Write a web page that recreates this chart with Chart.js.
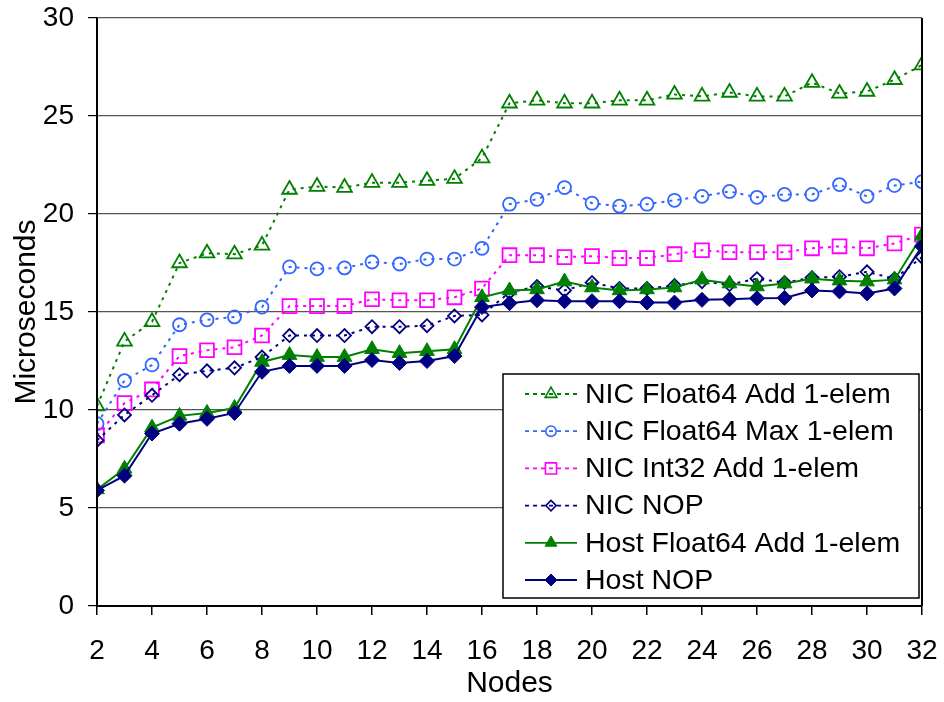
<!DOCTYPE html>
<html>
<head>
<meta charset="utf-8">
<script src="https://cdn.jsdelivr.net/npm/chart.js@4"></script>
<style>
  html, body { margin: 0; padding: 0; background: #fff; }
  #wrap { width: 944px; height: 702px; }
</style>
</head>
<body>
<div id="wrap"><canvas id="chart" width="944" height="702"></canvas></div>
<script>
  // --- Data ---
  const nodes = [2, 3, 4, 5, 6, 7, 8, 9, 10, 11, 12, 13, 14, 15, 16,
    17, 18, 19, 20, 21, 22, 23, 24, 25, 26, 27, 28, 29, 30, 31, 32];
  const xTicks = [2, 4, 6, 8, 10, 12, 14, 16, 18, 20, 22, 24, 26, 28, 30, 32];
  const yTicks = [0, 5, 10, 15, 20, 25, 30];

  const nicFloat64Add = [10.2, 13.5, 14.5, 17.5, 18.0, 17.95, 18.4, 21.25, 21.4, 21.35, 21.6, 21.6, 21.7, 21.8, 22.85,
    25.65, 25.8, 25.65, 25.65, 25.8, 25.8, 26.1, 26.0, 26.2, 26.0, 26.0, 26.7, 26.15, 26.25, 26.85, 27.6];
  const nicFloat64Max = [9.3, 11.5, 12.3, 14.35, 14.6, 14.75, 15.25, 17.3, 17.2, 17.25, 17.55, 17.45, 17.7, 17.7, 18.25,
    20.5, 20.75, 21.35, 20.55, 20.4, 20.5, 20.7, 20.9, 21.15, 20.85, 21.0, 21.0, 21.5, 20.9, 21.45, 21.65];
  const nicInt32Add = [8.7, 10.35, 11.05, 12.75, 13.05, 13.2, 13.8, 15.3, 15.3, 15.3, 15.65, 15.6, 15.6, 15.75, 16.2,
    17.9, 17.9, 17.8, 17.85, 17.75, 17.75, 17.95, 18.15, 18.05, 18.05, 18.05, 18.25, 18.35, 18.25, 18.5, 18.95];
  const nicNop = [8.45, 9.75, 10.75, 11.8, 12.0, 12.15, 12.7, 13.8, 13.8, 13.8, 14.25, 14.25, 14.3, 14.8, 14.85,
    16.0, 16.3, 16.1, 16.5, 16.2, 16.2, 16.35, 16.55, 16.4, 16.7, 16.5, 16.75, 16.8, 17.05, 16.7, 17.8];
  const hostFloat64Add = [5.95, 7.0, 9.1, 9.7, 9.85, 10.1, 12.45, 12.8, 12.7, 12.7, 13.1, 12.9, 13.0, 13.1, 15.75,
    16.1, 16.15, 16.55, 16.25, 16.1, 16.15, 16.25, 16.65, 16.45, 16.3, 16.45, 16.7, 16.6, 16.55, 16.65, 18.9];
  const hostNop = [5.9, 6.65, 8.8, 9.3, 9.55, 9.85, 11.95, 12.25, 12.25, 12.25, 12.55, 12.4, 12.5, 12.75, 15.25,
    15.45, 15.6, 15.55, 15.55, 15.55, 15.48, 15.48, 15.62, 15.65, 15.7, 15.72, 16.1, 16.05, 15.95, 16.2, 18.35];

  const GREEN = "#008000";
  const BLUE = "#3366ff";
  const MAGENTA = "#ff00ff";
  const NAVY = "#000080";
  const CLEAR = "rgba(0,0,0,0)";
  const FONT = "'Liberation Sans', Arial, sans-serif";

  function pts(values) {
    return values.map((v, i) => ({ x: nodes[i], y: v }));
  }

  function nicSeries(label, values, color, style, radius, order) {
    return {
      label: label,
      data: pts(values),
      borderColor: color,
      borderWidth: 2,
      borderDash: [3, 5],
      pointStyle: style,
      pointRadius: radius,
      pointBorderColor: color,
      pointBackgroundColor: CLEAR,
      pointBorderWidth: 1.8,
      order: order,
    };
  }

  function hostSeries(label, values, color, style, radius, order) {
    return {
      label: label,
      data: pts(values),
      borderColor: color,
      borderWidth: 2,
      pointStyle: style,
      pointRadius: radius,
      pointBorderColor: color,
      pointBackgroundColor: color,
      pointBorderWidth: 1,
      order: order,
    };
  }

  // no automatic label overflow padding, the layout padding decides
  function noPad(s) {
    s.paddingTop = 0;
    s.paddingBottom = 0;
    s.paddingLeft = 0;
    s.paddingRight = 0;
  }

  // --- Legend box inside the plot (bottom right) ---
  const boxLegend = {
    id: "boxLegend",
    afterDatasetsDraw(chart) {
      const ctx = chart.ctx;
      const area = chart.chartArea;
      const w = 416, h = 224;
      const left = area.right - 3 - w;
      const top = area.bottom - 8 - h;
      ctx.save();
      ctx.fillStyle = "#fff";
      ctx.fillRect(left, top, w, h);
      ctx.strokeStyle = "#000";
      ctx.lineWidth = 1.5;
      ctx.strokeRect(left, top, w, h);
      ctx.font = "28.5px " + FONT;
      ctx.textBaseline = "middle";
      ctx.textAlign = "left";
      chart.data.datasets.forEach((ds, i) => {
        const cy = top + 20 + i * 37.2;
        ctx.strokeStyle = ds.borderColor;
        ctx.lineWidth = 1.8;
        ctx.setLineDash(ds.borderDash ? [4, 4] : []);
        ctx.beginPath();
        ctx.moveTo(left + 22, cy);
        ctx.lineTo(left + 74, cy);
        ctx.stroke();
        ctx.setLineDash([]);
        ctx.strokeStyle = ds.pointBorderColor;
        ctx.fillStyle = ds.pointBackgroundColor;
        ctx.lineWidth = ds.pointBorderWidth > 1 ? 1.6 : 1;
        Chart.helpers.drawPoint(ctx, {
          pointStyle: ds.pointStyle,
          radius: ds.pointRadius * 0.8,
          borderWidth: ctx.lineWidth,
          rotation: 0,
        }, left + 48, cy);
        ctx.fillStyle = "#000";
        ctx.fillText(ds.label, left + 82, cy + 1);
      });
      ctx.restore();
    },
  };

  const frame = {
    id: "frame",
    afterDatasetsDraw(chart) {
      const ctx = chart.ctx;
      const a = chart.chartArea;
      ctx.save();
      ctx.strokeStyle = "#000";
      ctx.lineWidth = 2;
      ctx.beginPath();
      ctx.moveTo(a.left, a.top);
      ctx.lineTo(a.left, a.bottom);
      ctx.lineTo(a.right, a.bottom);
      ctx.moveTo(a.right, a.top);
      ctx.lineTo(a.right, a.bottom);
      ctx.stroke();
      ctx.restore();
    },
  };

  new Chart(document.getElementById("chart"), {
    type: "line",
    data: {
      datasets: [
        nicSeries("NIC Float64 Add 1-elem", nicFloat64Add, GREEN, "triangle", 8.5, 5),
        nicSeries("NIC Float64 Max 1-elem", nicFloat64Max, BLUE, "circle", 6.5, 4),
        nicSeries("NIC Int32 Add 1-elem", nicInt32Add, MAGENTA, "rect", 9.8, 3),
        nicSeries("NIC NOP", nicNop, NAVY, "rectRot", 6.5, 2),
        hostSeries("Host Float64 Add 1-elem", hostFloat64Add, GREEN, "triangle", 8.5, 1),
        hostSeries("Host NOP", hostNop, NAVY, "rectRot", 7.5, 0),
      ],
    },
    options: {
      responsive: false,
      animation: false,
      devicePixelRatio: 1,
      layout: { padding: { top: 18, right: 22, left: 0, bottom: 0 } },
      plugins: {
        legend: { display: false },
        tooltip: { enabled: false },
      },
      scales: {
        x: {
          type: "linear",
          min: 2,
          max: 32,
          afterBuildTicks: (s) => { s.ticks = xTicks.map((v) => ({ value: v })); },
          afterFit: (s) => { s.height = 96; noPad(s); },
          grid: { display: true, drawOnChartArea: false, drawTicks: true, tickLength: 9, color: "#000", lineWidth: 1.5 },
          border: { display: false },
          ticks: { color: "#000", font: { family: FONT, size: 28 }, padding: 19, maxRotation: 0, autoSkip: false },
          title: { display: true, text: "Nodes", color: "#000", font: { family: FONT, size: 30 }, padding: { top: 0, bottom: 0 } },
        },
        y: {
          min: 0,
          max: 30,
          afterBuildTicks: (s) => { s.ticks = yTicks.map((v) => ({ value: v })); },
          afterFit: (s) => { s.width = 97; noPad(s); },
          grid: { color: "#555", lineWidth: 1.2, tickLength: 9, tickColor: "#000" },
          border: { display: false },
          ticks: { color: "#000", font: { family: FONT, size: 28 }, padding: 14 },
          title: { display: true, text: "Microseconds", color: "#000", font: { family: FONT, size: 30 }, padding: { top: 9, bottom: 0 } },
        },
      },
    },
    plugins: [frame, boxLegend],
  });
</script>
</body>
</html>
